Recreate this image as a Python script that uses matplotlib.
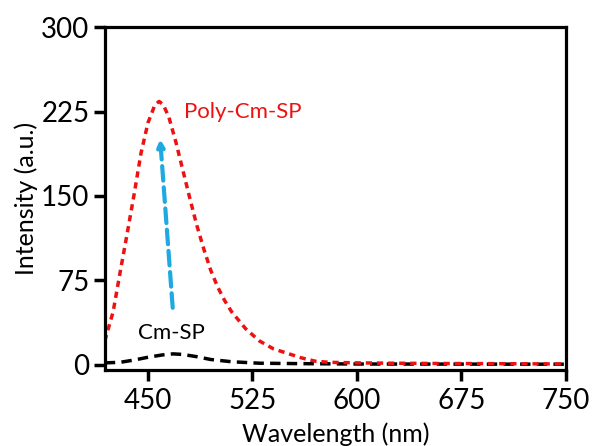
import matplotlib
matplotlib.use("Agg")
import matplotlib.pyplot as plt

plt.rcParams['font.family'] = ['Lato', 'DejaVu Sans']

# emission spectra, wavelength in nm
wl_poly = [419, 425, 430, 435, 440, 445, 450, 455, 458, 461, 465, 470, 475, 480,
           485, 490, 495, 500, 505, 510, 520, 530, 540, 550, 560, 570, 580, 600,
           625, 650, 700, 750]
int_poly = [21, 47, 82, 116, 151, 188, 215, 231, 234, 231, 220, 198, 173, 148,
            124, 103, 84, 69, 57, 47, 32, 21, 14, 10, 6, 3, 2, 1.5,
            1.2, 1, 0.8, 0.5]

wl_mono = [419, 430, 440, 450, 460, 468, 475, 485, 495, 510, 530, 560, 600, 750]
int_mono = [1.5, 2, 4, 6.5, 8.5, 9.5, 9, 7, 4.5, 2.5, 1.2, 0.8, 0.5, 0.3]

xticks = [450, 525, 600, 675, 750]
yticks = [0, 75, 150, 225, 300]

fig = plt.figure(figsize=(5.92, 4.46), dpi=100)
ax = fig.add_axes([0.177, 0.170, 0.779, 0.769])

ax.plot(wl_mono, int_mono, color='black', lw=2.5, dashes=(3, 1.8))
ax.plot(wl_poly, int_poly, color='#ee1111', lw=2.5, dashes=(1.8, 1.4))

# arrow from Cm-SP to Poly-Cm-SP
ax.annotate('', xy=(458.6, 203), xytext=(467.9, 48),
            arrowprops=dict(arrowstyle='-|>,head_length=0.4,head_width=0.2',
                            color='#1ea9e1', lw=3, linestyle=(0, (3.5, 1.6))))

ax.text(476, 225, 'Poly-Cm-SP', color='#ee1111', fontsize=16, va='center')
ax.text(467, 28, 'Cm-SP', color='black', fontsize=16, va='center', ha='center')

ax.set_xlim(419, 750)
ax.set_ylim(-5, 300)
ax.set_xticks(xticks)
ax.set_yticks(yticks)
ax.tick_params(axis='both', labelsize=20, width=2.5, length=8, direction='out')
ax.tick_params(axis='x', pad=5)
ax.tick_params(axis='y', pad=3)
for s in ax.spines.values():
    s.set_linewidth(2.3)

ax.set_xlabel('Wavelength (nm)', fontsize=18, labelpad=6)
ax.set_ylabel('Intensity (a.u.)', fontsize=18, labelpad=2)

fig.savefig('out.png', dpi=100)
